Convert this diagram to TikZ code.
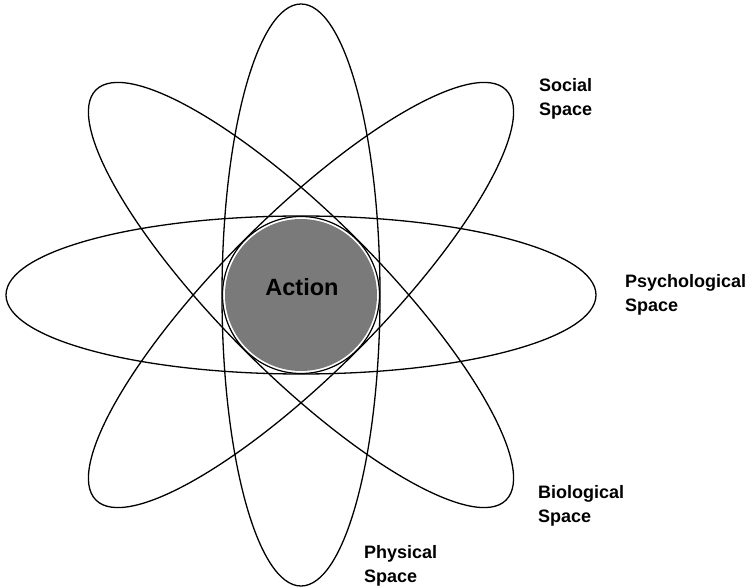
\documentclass[tikz,border=0pt]{standalone}
\usepackage{fontspec}
\setmainfont{Liberation Sans}
\begin{document}
\begin{tikzpicture}[x=1pt,y=-1pt,
  orbit/.style={draw=black, line width=1.3pt},
  spacelabel/.style={font=\bfseries\fontsize{18}{24}\selectfont, align=left, anchor=north west, inner sep=0pt},
  core/.style={circle, draw=black, line width=1.2pt, minimum size=157pt, inner sep=0pt},
  corefill/.style={fill=black!52}]
\useasboundingbox (0,0) rectangle (756,588);
\coordinate (c) at (301,295);
% orbits
\draw[orbit] (c) ellipse [x radius=295, y radius=79];
\draw[orbit] (c) ellipse [x radius=79, y radius=291];
\draw[orbit, rotate around={45:(c)}] (c) ellipse [x radius=290, y radius=79];
\draw[orbit, rotate around={-45:(c)}] (c) ellipse [x radius=290, y radius=79];
% core
\fill[corefill] (c) circle [radius=76];
\node[core] (action) at (c) {};
\node[font=\bfseries\fontsize{23.5}{28}\selectfont, text=black] (actiontext) at (302,287) {Action};
% labels
\node[spacelabel] (social) at (539,78) {Social\\Space};
\node[spacelabel] (psych) at (625,274.5) {Psychological\\Space};
\node[spacelabel] (bio) at (538,485) {Biological\\Space};
\node[spacelabel] (phys) at (364,545) {Physical\\Space};
\end{tikzpicture}
\end{document}
